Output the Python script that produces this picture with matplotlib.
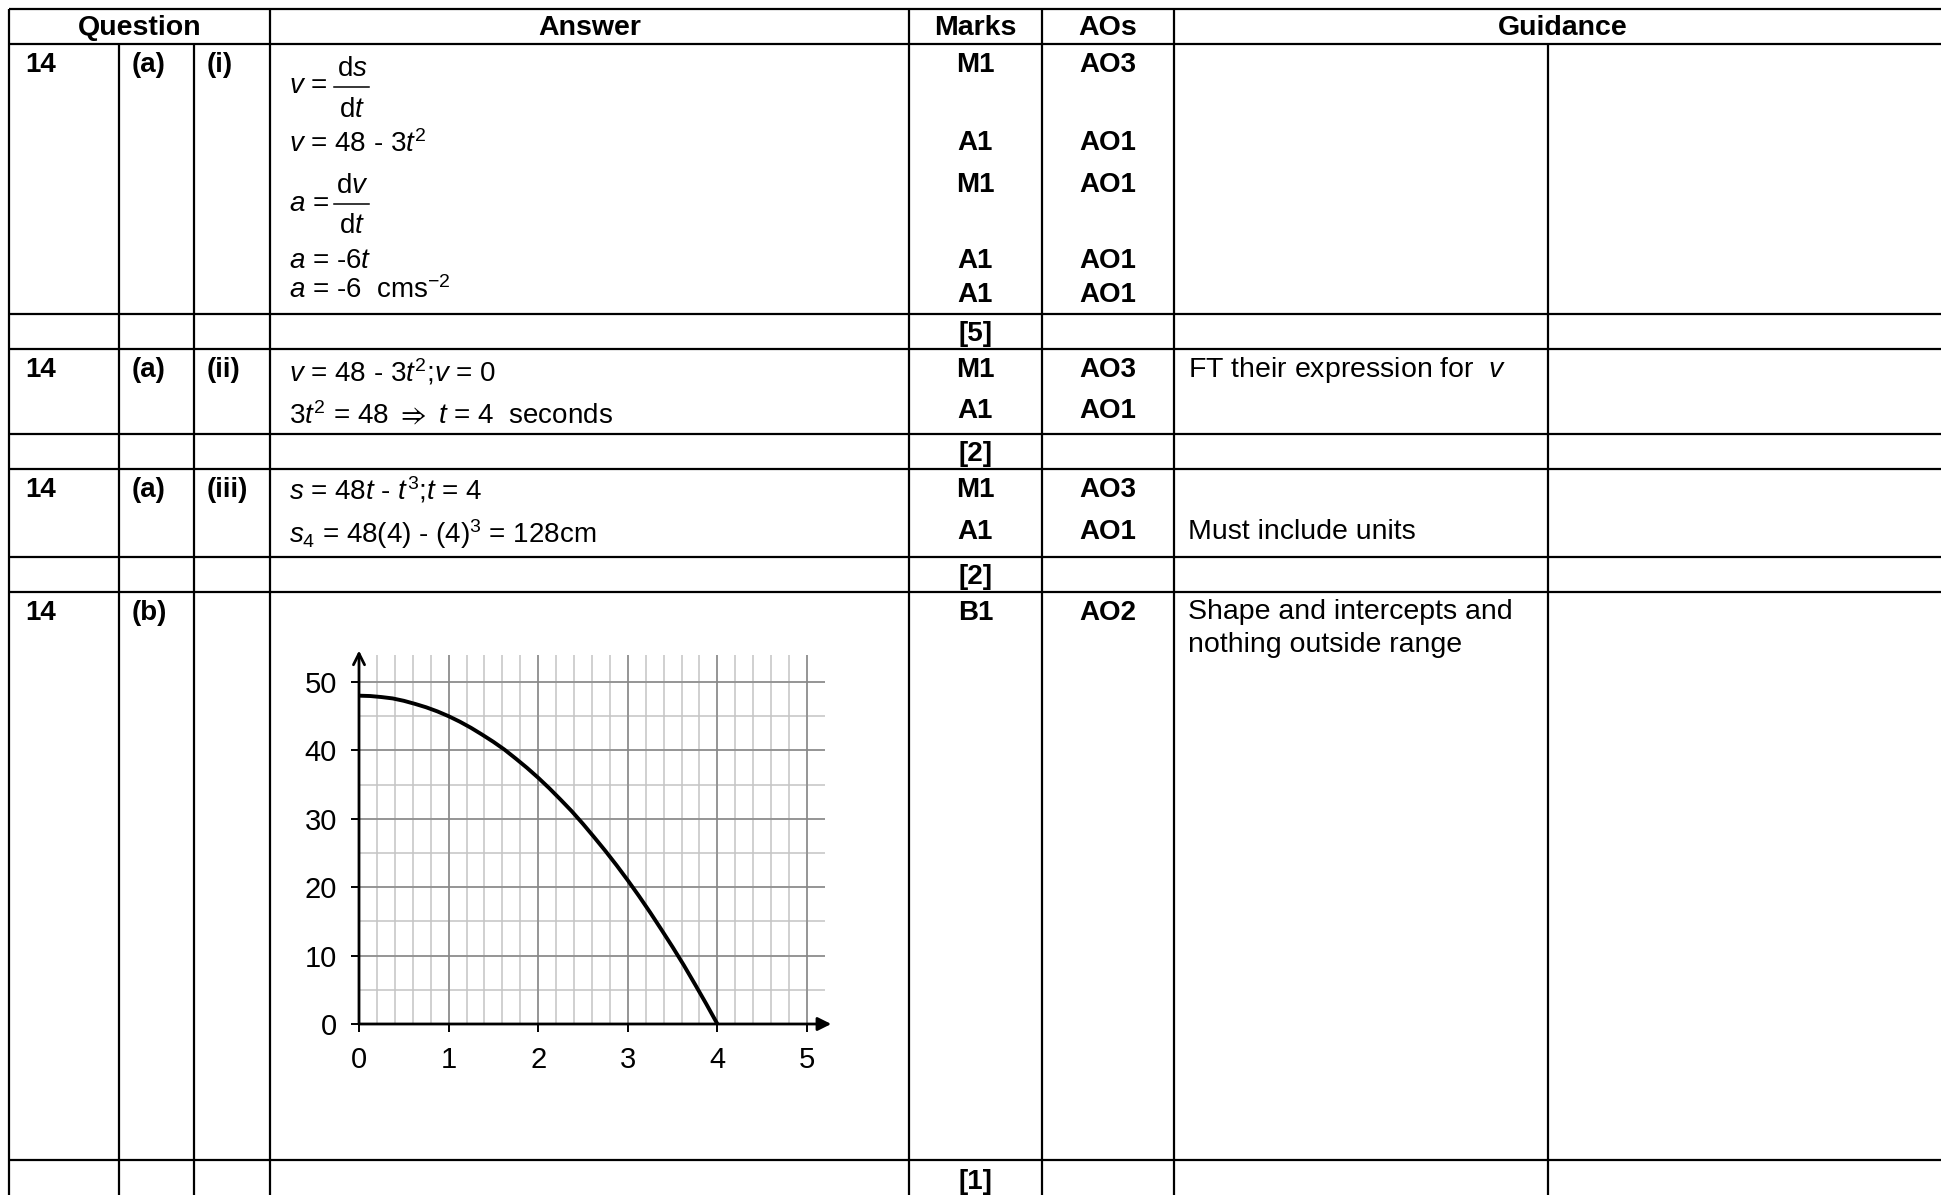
import matplotlib
matplotlib.use("Agg")
import matplotlib.pyplot as plt
import numpy as np

plt.rcParams['font.family'] = ['Liberation Sans', 'DejaVu Sans']
plt.rcParams['mathtext.fontset'] = 'custom'
plt.rcParams['mathtext.rm'] = 'Liberation Sans'
plt.rcParams['mathtext.it'] = 'Liberation Sans:italic'
plt.rcParams['mathtext.bf'] = 'Liberation Sans:bold'
plt.rcParams['mathtext.fallback'] = 'stixsans'

# table content
headers = ["Question", "Answer", "Marks", "AOs", "Guidance"]
question_no = ["14", "14", "14", "14"]
question_part = ["(a)", "(a)", "(a)", "(b)"]
question_sub = ["(i)", "(ii)", "(iii)", ""]
marks = ["M1", "A1", "M1", "A1", "A1", "[5]", "M1", "A1", "[2]",
         "M1", "A1", "[2]", "B1", "[1]"]
aos = ["AO3", "AO1", "AO1", "AO1", "AO1", "", "AO3", "AO1", "",
       "AO3", "AO1", "", "AO2", ""]
answers = [
    r"$v$ = 48 - 3$t^2$",
    r"$a$ = -6$t$",
    r"$a$ = -6  cms$^{-2}$",
    r"$v$ = 48 - 3$t^2$;$v$ = 0",
    r"3$t^2$ = 48 $\Rightarrow$ $t$ = 4  seconds",
    r"$s$ = 48$t$ - $t^3$;$t$ = 4",
    r"$s_4$ = 48(4) - $(4)^3$ = 128cm",
]
fractions = [(r"$v$ =", r"d$s$", r"d$t$"), (r"$a$ =", r"d$v$", r"d$t$")]
guidance = ["FT their expression for  $v$", "Must include units",
            "Shape and intercepts and", "nothing outside range"]

# sketch of v against t
t_vals = [0, 0.125, 0.25, 0.375, 0.5, 0.625, 0.75, 0.875, 1, 1.125, 1.25,
          1.375, 1.5, 1.625, 1.75, 1.875, 2, 2.125, 2.25, 2.375, 2.5, 2.625,
          2.75, 2.875, 3, 3.125, 3.25, 3.375, 3.5, 3.625, 3.75, 3.875, 4]
v_vals = [48, 47.95, 47.8, 47.6, 47.25, 46.8, 46.3, 45.7, 45, 44.2, 43.3,
          42.3, 41.25, 40.1, 38.8, 37.45, 36, 34.45, 32.8, 31.1, 29.25, 27.3,
          25.3, 23.2, 21, 18.7, 16.3, 13.8, 11.25, 8.6, 5.8, 2.95, 0]
x_ticks = [0, 1, 2, 3, 4, 5]
y_ticks = [0, 10, 20, 30, 40, 50]

# layout in pixels
W, H = 1941, 1195
col_x = [9, 119, 194, 270, 909, 1042, 1174, 1548]
row_y = [9, 44, 314, 348.5, 434, 469, 557, 592, 1160]
header_x = [139.5, 589.5, 975.5, 1108, 1563]
q_y = [72, 377, 497, 620]
marks_y = [72, 150, 192, 268, 302, 341, 377, 418, 461, 497, 539, 584, 620, 1189]
answers_y = [152, 268, 298, 381, 424, 499, 543]
frac_y = [(93, 76, 117, 87), (211, 193, 233, 204)]
guidance_y = [377, 539, 619, 652]
FS = 20

fig = plt.figure(figsize=(W / 100, H / 100), dpi=100)
bg = fig.add_axes([0, 0, 1, 1])
bg.set_xlim(0, W)
bg.set_ylim(H, 0)
bg.axis('off')

# table rules
lw = 1.6
bg.hlines(row_y, col_x[0], W, colors='black', lw=lw)
for x in col_x:
    top = row_y[1] if x in (119, 194, 1548) else row_y[0]
    bg.vlines(x, top, H, colors='black', lw=lw)

for x, h in zip(header_x, headers):
    bg.text(x, 35, h, ha='center', va='baseline', fontsize=20.5, fontweight='bold')

for y, a, b, c in zip(q_y, question_no, question_part, question_sub):
    bg.text(25, y, a, va='baseline', fontsize=FS, fontweight='bold')
    bg.text(132, y, b, va='baseline', fontsize=FS, fontweight='bold')
    bg.text(207, y, c, va='baseline', fontsize=FS, fontweight='bold')

for y, m, a in zip(marks_y, marks, aos):
    bg.text(975.5, y, m, ha='center', va='baseline', fontsize=FS, fontweight='bold')
    if a:
        bg.text(1108, y, a, ha='center', va='baseline', fontsize=FS, fontweight='bold')

for y, s in zip(answers_y, answers):
    bg.text(289, y, s, va='baseline', fontsize=FS)

for (lhs, num, den), (yl, yn, yd, yline) in zip(fractions, frac_y):
    bg.text(289, yl, lhs, va='baseline', fontsize=FS)
    bg.text(352, yn, num, ha='center', va='baseline', fontsize=FS)
    bg.text(352, yd, den, ha='center', va='baseline', fontsize=FS)
    bg.plot([334, 369], [yline, yline], color='black', lw=1.1)

for y, s in zip(guidance_y, guidance):
    bg.text(1188, y, s, va='baseline', fontsize=20.5)

# graph
x0, xu = 359, 89.6
y0, yu = 1024, 6.84
ax = fig.add_axes([x0 / W, (H - y0) / H, 5.5 * xu / W, 55 * yu / H])
ax.set_xlim(0, 5.5)
ax.set_ylim(0, 55)
ax.patch.set_visible(False)
for sp in ax.spines.values():
    sp.set_visible(False)

light, dark = '#c4c4c4', '#868686'
ax.vlines(np.arange(0.2, 5.01, 0.2), 0, 54, colors=light, lw=1.1)
ax.hlines(np.arange(5, 51, 5), 0, 5.2, colors=light, lw=1.1)
ax.vlines(np.arange(1, 6), 0, 54, colors=dark, lw=1.1)
ax.hlines(np.arange(10, 51, 10), 0, 5.2, colors=dark, lw=1.1)

ax.annotate('', xy=(0, 54.6), xytext=(0, 0),
            arrowprops=dict(arrowstyle='->', lw=2.0, color='black',
                            mutation_scale=20, shrinkA=0, shrinkB=0))
ax.annotate('', xy=(5.27, 0), xytext=(0, 0),
            arrowprops=dict(arrowstyle='-|>', lw=2.0, color='black',
                            mutation_scale=20, shrinkA=0, shrinkB=0))

ax.plot(t_vals, v_vals, color='black', lw=2.8, solid_capstyle='round',
        solid_joinstyle='round', zorder=5)

ax.set_xticks(x_ticks)
ax.set_yticks(y_ticks)
ax.tick_params(direction='out', length=6, width=1.4, labelsize=21, pad=10,
               colors='black')

fig.savefig('out.png', dpi=100)
